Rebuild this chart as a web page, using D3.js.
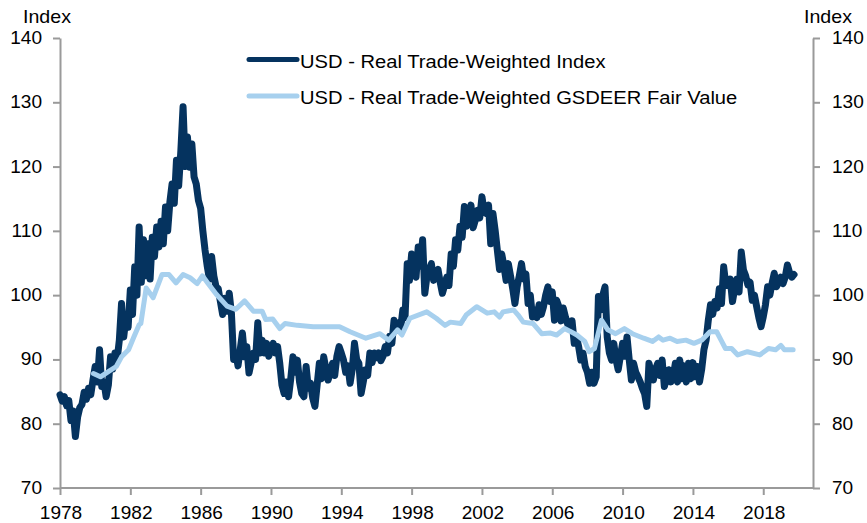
<!DOCTYPE html>
<html>
<head>
<meta charset="utf-8">
<script src="https://cdn.jsdelivr.net/npm/d3@7"></script>
<style>
html,body{margin:0;padding:0;background:#fff;}
svg{display:block;}
text{font-family:"Liberation Sans",Arial,sans-serif;fill:#000;}
</style>
</head>
<body>
<svg id="chart" width="867" height="523"></svg>
<script>
// ---------- data ----------
const seriesNames = ["USD - Real Trade-Weighted Index", "USD - Real Trade-Weighted GSDEER Fair Value"];
const yTicks = [70, 80, 90, 100, 110, 120, 130, 140];
const xTicks = [1978, 1982, 1986, 1990, 1994, 1998, 2002, 2006, 2010, 2014, 2018];
const axisTitle = "Index";

// Real trade-weighted index, every 1/8 year from 1978.0
const darkStart = 1978, darkStep = 0.125;
const darkValues = [
  84.5, 83.5, 84.2, 82.8, 83.6, 80.5, 82.0, 78.0,          // 1978
  81.0, 82.5, 83.0, 84.9, 83.8, 85.5, 84.5, 86.8,          // 1979
  88.9, 86.5, 91.5, 85.8, 86.5, 84.2, 86.0, 90.4,          // 1980
  88.5, 91.0, 90.0, 93.0, 98.7, 93.5, 96.5, 95.0,          // 1981
  100.8, 97.0, 104.4, 100.0, 110.6, 102.0, 108.6, 103.0,   // 1982
  108.0, 102.5, 109.0, 106.0, 110.6, 107.5, 111.5, 108.0,  // 1983
  113.7, 110.0, 114.5, 117.3, 114.3, 121.0, 117.0, 122.5,  // 1984
  129.3, 120.0, 124.6, 119.9, 123.5, 118.4, 117.3, 114.7,  // 1985
  113.5, 110.0, 107.0, 104.5, 102.5, 106.0, 103.0, 101.3,  // 1986
  101.0, 99.0, 97.0, 99.5, 97.5, 100.3, 97.2, 90.0,        // 1987
  91.0, 89.0, 91.5, 94.1, 90.4, 92.0, 87.9, 89.5,          // 1988
  91.0, 90.0, 95.7, 91.0, 93.0, 91.0, 92.5, 90.5,          // 1989
  91.5, 92.5, 91.0, 92.0, 89.4, 86.0, 84.7, 86.5,          // 1990
  84.2, 87.0, 90.4, 88.0, 89.9, 86.5, 84.7, 84.2,          // 1991
  88.9, 85.5, 86.3, 84.0, 82.7, 86.0, 89.4, 87.0,          // 1992
  90.4, 88.5, 86.8, 88.0, 89.4, 87.5, 90.5, 92.0,          // 1993
  91.0, 89.9, 88.0, 89.0, 86.3, 88.5, 92.5, 90.0,          // 1994
  89.4, 84.7, 86.5, 88.4, 87.5, 91.0, 89.5, 91.0,          // 1995
  90.3, 91.0, 89.8, 90.5, 92.0, 91.0, 93.6, 92.5,          // 1996
  96.1, 94.5, 95.7, 94.8, 97.7, 96.5, 104.9, 102.3,        // 1997
  106.4, 103.5, 102.8, 107.5, 104.5, 108.6, 100.3, 103.0,  // 1998
  104.0, 104.9, 102.3, 103.5, 104.0, 102.0, 100.3, 101.5,  // 1999
  102.8, 101.5, 106.4, 104.5, 108.6, 107.0, 110.7, 109.0,  // 2000
  113.8, 110.7, 112.0, 114.0, 110.5, 111.7, 113.2, 112.0,  // 2001
  115.3, 113.0, 112.7, 114.0, 108.0, 112.7, 110.1, 107.0,  // 2002
  104.0, 106.4, 104.5, 102.3, 104.9, 103.0, 101.0, 98.7,   // 2003
  101.3, 103.0, 104.9, 102.5, 103.3, 98.7, 100.0, 96.6,    // 2004
  97.7, 96.5, 98.5, 97.0, 98.2, 100.0, 101.3, 99.0,        // 2005
  100.5, 96.1, 99.2, 98.2, 96.0, 98.0, 96.6, 95.5,         // 2006
  95.1, 96.0, 92.5, 93.5, 92.0, 89.9, 91.0, 88.9,          // 2007
  88.0, 86.3, 88.0, 86.3, 87.3, 99.8, 97.7, 100.0,         // 2008
  101.3, 93.5, 91.0, 89.9, 92.5, 90.0, 88.4, 90.5,         // 2009
  92.5, 90.5, 93.5, 90.0, 86.8, 89.4, 88.0, 87.3,          // 2010
  86.5, 85.5, 84.7, 82.7, 89.4, 88.0, 86.8, 88.5,          // 2011
  89.4, 87.5, 89.9, 85.8, 87.0, 88.4, 86.5, 87.3,          // 2012
  89.4, 86.5, 89.9, 87.0, 89.0, 86.5, 89.4, 87.0,          // 2013
  89.5, 87.3, 88.9, 86.5, 88.5, 91.5, 93.0, 96.1,          // 2014
  98.5, 97.0, 99.0, 98.0, 101.0, 98.7, 104.4, 101.5,       // 2015
  101.5, 102.5, 99.0, 101.0, 102.5, 100.5, 106.7, 103.9,   // 2016
  103.0, 101.6, 102.0, 99.2, 100.0, 98.2, 96.5, 95.1,      // 2017
  96.6, 98.5, 101.3, 100.0, 101.8, 103.4, 101.3, 102.0,    // 2018
  102.8, 101.8, 102.8, 104.7, 103.5, 102.8, 103.2          // 2019
];

// GSDEER fair value
const lightYears = [1979.9,1980.3,1980.75,1981.2,1981.5,1981.9,1982.2,1982.5,1982.6,1982.9,1983.3,1983.8,1984.2,1984.6,1985.0,1985.4,1985.8,1986.1,1986.4,1986.9,1987.5,1988.0,1988.5,1989.0,1989.5,1989.7,1990.1,1990.5,1990.8,1991.5,1992.4,1993.2,1993.9,1994.5,1995.4,1996.2,1996.7,1997.2,1997.45,1997.9,1998.86,1999.4,1999.9,2000.2,2000.8,2001.1,2001.7,2002.3,2002.7,2003.0,2003.2,2003.8,2004.06,2004.35,2004.9,2005.4,2005.9,2006.25,2006.7,2007.0,2007.4,2007.85,2008.1,2008.4,2008.8,2009.16,2009.6,2010.1,2010.56,2011.2,2011.7,2012.05,2012.3,2012.7,2013.1,2013.6,2014.06,2014.5,2014.97,2015.35,2015.6,2015.85,2016.2,2016.55,2017.1,2017.8,2018.3,2018.7,2019.0,2019.2,2019.7];
const lightValues = [87.8,87.3,88.1,88.9,90.4,91.5,93.5,95.4,95.6,101.1,99.6,103.2,103.2,101.9,103.2,102.7,101.8,103.0,101.9,100.1,98.3,97.8,99.1,97.5,97.5,96.2,96.3,94.8,95.6,95.3,95.1,95.1,95.1,94.3,93.3,94.0,93.0,94.6,93.8,96.4,97.4,96.4,95.3,95.8,95.6,96.9,98.2,97.2,97.4,96.6,97.4,97.7,96.9,95.8,95.6,94.0,94.1,93.8,94.8,94.4,93.8,92.8,91.2,91.7,96.1,94.6,94.0,94.8,94.0,93.3,92.8,93.5,93.0,93.3,92.8,93.0,92.5,93.0,94.3,94.3,93.0,91.7,91.7,90.7,91.2,90.7,91.7,91.5,92.2,91.5,91.5];

// ---------- drawing ----------
(function () {
const svg = d3.select("#chart");
const mLeft = 60, mRight = 813, mTop = 38, mBottom = 488;
const darkColor = "#05335f", lightColor = "#a7d0ee", axisColor = "#9a9a9a";
const SX = 1.09;

const x = d3.scaleLinear().domain([1978, 2020.83]).range([mLeft, mRight]);
const y = d3.scaleLinear().domain([70, 140]).range([mBottom, mTop]);

function styleAxis(g) {
  g.select(".domain").attr("stroke", axisColor).attr("stroke-width", 2);
  g.selectAll(".tick line").attr("stroke", axisColor).attr("stroke-width", 2);
  g.selectAll(".tick text").remove();
}

const gl = svg.append("g").attr("transform", `translate(${mLeft},0)`)
  .call(d3.axisLeft(y).tickValues(yTicks).tickSize(7).tickSizeOuter(0));
styleAxis(gl);
const gr = svg.append("g").attr("transform", `translate(${mRight},0)`)
  .call(d3.axisRight(y).tickValues(yTicks).tickSize(7).tickSizeOuter(0));
styleAxis(gr);
const gb = svg.append("g").attr("transform", `translate(0,${mBottom})`)
  .call(d3.axisBottom(x).tickValues(xTicks).tickSize(7).tickSizeOuter(0));
styleAxis(gb);
gb.select(".domain").attr("d", `M${mLeft},0H${mRight}`);

yTicks.forEach(v => {
  svg.append("text").attr("transform", `translate(42,${y(v) + 6}) scale(${SX},1)`)
    .attr("text-anchor", "end").attr("font-size", 17.5).text(v);
  svg.append("text").attr("transform", `translate(832,${y(v) + 6}) scale(${SX},1)`)
    .attr("text-anchor", "start").attr("font-size", 17.5).text(v);
});
xTicks.forEach(v => {
  svg.append("text").attr("transform", `translate(${x(v) + 1},519) scale(${SX},1)`)
    .attr("text-anchor", "middle").attr("font-size", 17.5).text(d3.format("d")(v));
});
svg.append("text").attr("transform", `translate(23,23) scale(${SX},1)`)
  .attr("font-size", 18).text(axisTitle);
svg.append("text").attr("transform", `translate(804,23) scale(${SX},1)`)
  .attr("font-size", 18).text(axisTitle);

const line = d3.line().x(d => x(d[0])).y(d => y(d[1])).curve(d3.curveLinear);
const darkData = darkValues.map((v, i) => [darkStart + i * darkStep, v]);
const lightData = lightYears.map((t, i) => [t, lightValues[i]]);

svg.append("path").datum(darkData).attr("d", line)
  .attr("fill", "none").attr("stroke", darkColor).attr("stroke-width", 7)
  .attr("stroke-linejoin", "round").attr("stroke-linecap", "round");
svg.append("path").datum(lightData).attr("d", line)
  .attr("fill", "none").attr("stroke", lightColor).attr("stroke-width", 5)
  .attr("stroke-linejoin", "round").attr("stroke-linecap", "round");

const legend = [
  {name: seriesNames[0], color: darkColor, ly: 59.5, ty: 67.5},
  {name: seriesNames[1], color: lightColor, ly: 96, ty: 104}
];
legend.forEach(l => {
  svg.append("line").attr("x1", 249).attr("x2", 297).attr("y1", l.ly).attr("y2", l.ly)
    .attr("stroke", l.color).attr("stroke-width", 5).attr("stroke-linecap", "round");
  svg.append("text").attr("transform", `translate(300,${l.ty}) scale(${SX},1)`)
    .attr("font-size", 18.5).text(l.name);
});
})();
</script>
</body>
</html>
